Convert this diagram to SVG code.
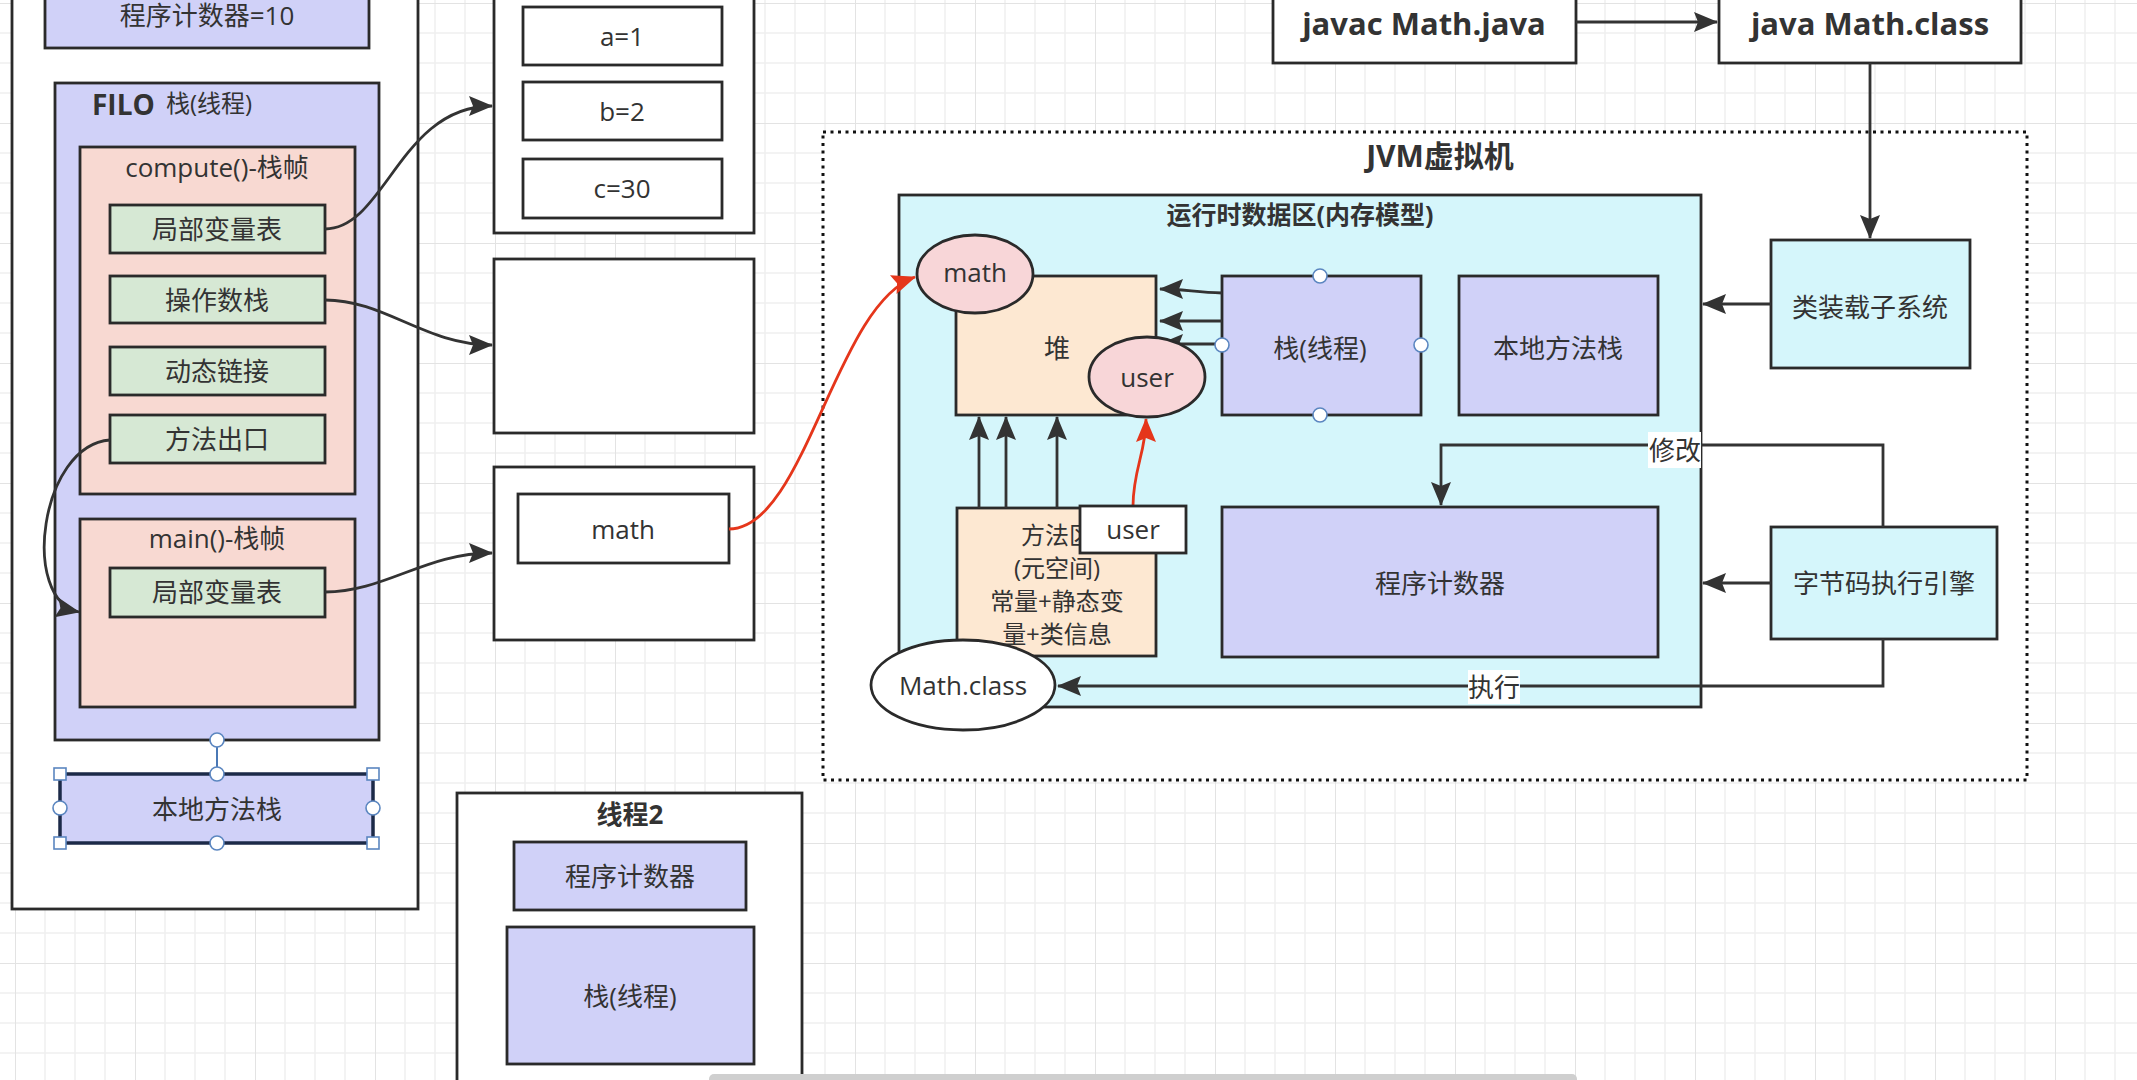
<svg xmlns="http://www.w3.org/2000/svg" width="2137" height="1080" viewBox="0 0 2137 1080">
<defs>
<pattern id="grid" x="15" y="3" width="120" height="120" patternUnits="userSpaceOnUse">
<path d="M30,0V120M60,0V120M90,0V120M0,30H120M0,60H120M0,90H120" stroke="#f0f0f0" stroke-width="1.5" fill="none"/>
<path d="M0,0V120M0,0H120" stroke="#e3e3e3" stroke-width="2" fill="none"/>
</pattern>
<marker id="arr" markerUnits="userSpaceOnUse" markerWidth="26" markerHeight="22" refX="23" refY="10" orient="auto">
<path d="M0,0 L24,10 L0,20 L4,10 z" fill="#333"/>
</marker>
<marker id="arrR" markerUnits="userSpaceOnUse" markerWidth="26" markerHeight="22" refX="23" refY="10" orient="auto">
<path d="M0,0 L24,10 L0,20 L4,10 z" fill="#E5361B"/>
</marker>
</defs>
<style>
.b{stroke:#2a2a2a;stroke-width:2.8}
.w{fill:#fff}
.pu{fill:#D0D1F8}
.pk{fill:#F8D9D2}
.gr{fill:#D6E8D4}
.pe{fill:#FDE8D2}
.cy{fill:#D5F6FB}
.el{fill:#F8D6D8}
text{font-family:"Open Sans","Noto Sans CJK SC",sans-serif;font-size:26px;fill:#333;text-anchor:middle;dominant-baseline:central}
.bold{font-weight:bold}
.ma{font-size:24px}
.c{fill:none;stroke:#333;stroke-width:2.8;marker-end:url(#arr)}
.r{fill:none;stroke:#E5361B;stroke-width:2.8;marker-end:url(#arrR)}
.h{fill:#fff;stroke:#5b86c0;stroke-width:1.6}
</style>
<rect x="0" y="0" width="2137" height="1080" fill="#fff"/>
<rect x="0" y="0" width="2137" height="1080" fill="url(#grid)"/>

<g id="thread1">
<rect class="b w" x="12" y="-5" width="406" height="914"/>
</g>
<g id="pc10">
<rect class="b pu" x="45" y="-10" width="324" height="58"/>
<text x="207" y="15">程序计数器=10</text>
</g>
<g id="stack">
<rect class="b pu" x="55" y="83" width="324" height="657"/>
<text class="bold" x="92" y="104" style="text-anchor:start;font-size:28px">FILO</text>
<text x="166" y="102" style="text-anchor:start;font-size:24px">栈(线程)</text>
</g>
<g id="compute-frame">
<rect class="b pk" x="80" y="147" width="275" height="347"/>
<text x="217" y="167">compute()-栈帧</text>
</g>
<g id="compute-locals">
<rect class="b gr" x="110" y="205" width="215" height="48"/>
<text x="217" y="229">局部变量表</text>
</g>
<g id="operand-stack">
<rect class="b gr" x="110" y="276" width="215" height="47"/>
<text x="217" y="300">操作数栈</text>
</g>
<g id="dynamic-link">
<rect class="b gr" x="110" y="347" width="215" height="48"/>
<text x="217" y="371">动态链接</text>
</g>
<g id="method-exit">
<rect class="b gr" x="110" y="415" width="215" height="48"/>
<text x="217" y="439">方法出口</text>
</g>
<g id="main-frame">
<rect class="b pk" x="80" y="519" width="275" height="188"/>
<text x="217" y="538">main()-栈帧</text>
</g>
<g id="main-locals">
<rect class="b gr" x="110" y="568" width="215" height="49"/>
<text x="217" y="592">局部变量表</text>
</g>
<g id="native-stack-1">
<line x1="217" y1="740" x2="217" y2="774" stroke="#4a78b5" stroke-width="2"/>
<rect x="60" y="774" width="313" height="69" class="pu" stroke="#1c2a48" stroke-width="3.5"/>
<text x="217" y="809">本地方法栈</text>
<circle class="h" cx="217" cy="740" r="7"/>
<circle class="h" cx="217" cy="774" r="7"/>
<circle class="h" cx="217" cy="843" r="7"/>
<circle class="h" cx="60" cy="808" r="7"/>
<circle class="h" cx="373" cy="808" r="7"/>
<rect class="h" x="54" y="768" width="12" height="12"/>
<rect class="h" x="367" y="768" width="12" height="12"/>
<rect class="h" x="54" y="837" width="12" height="12"/>
<rect class="h" x="367" y="837" width="12" height="12"/>
</g>

<g id="locals-heap">
<rect class="b w" x="494" y="-5" width="260" height="238"/>
</g>
<g id="a1"><rect class="b w" x="523" y="7" width="199" height="58"/><text x="622" y="36">a=1</text></g>
<g id="b2"><rect class="b w" x="523" y="82" width="199" height="58"/><text x="622" y="111">b=2</text></g>
<g id="c30"><rect class="b w" x="523" y="159" width="199" height="59"/><text x="622" y="188">c=30</text></g>
<g id="operand-box"><rect class="b w" x="494" y="259" width="260" height="174"/></g>
<g id="main-locals-box"><rect class="b w" x="494" y="467" width="260" height="173"/></g>
<g id="math-var"><rect class="b w" x="518" y="494" width="211" height="69"/><text x="623" y="529">math</text></g>

<g id="thread2">
<rect class="b w" x="457" y="793" width="345" height="310"/>
<text class="bold" x="630" y="814">线程2</text>
</g>
<g id="thread2-pc"><rect class="b pu" x="514" y="842" width="232" height="68"/><text x="630" y="876">程序计数器</text></g>
<g id="thread2-stack"><rect class="b pu" x="507" y="927" width="247" height="137"/><text x="630" y="996">栈(线程)</text></g>

<g id="javac"><rect class="b w" x="1273" y="-5" width="303" height="68"/><text class="bold" x="1424" y="23" style="font-size:31px">javac Math.java</text></g>
<g id="java"><rect class="b w" x="1719" y="-5" width="302" height="68"/><text class="bold" x="1870" y="23" style="font-size:31px">java Math.class</text></g>

<g id="jvm">
<rect x="823" y="132" width="1204" height="648" fill="#fff" stroke="#111" stroke-width="3" stroke-dasharray="3 4.5"/>
<text class="bold" x="1440" y="155" style="font-size:30px">JVM虚拟机</text>
</g>
<g id="runtime">
<rect class="b cy" x="899" y="195" width="802" height="512"/>
<text class="bold" x="1300" y="214" style="font-size:25px">运行时数据区(内存模型)</text>
</g>
<g id="heap"><rect class="b pe" x="956" y="276" width="200" height="139"/><text x="1057" y="348">堆</text></g>
<g id="jvm-stack"><rect class="b pu" x="1222" y="276" width="199" height="139"/><text x="1320" y="348">栈(线程)</text></g>
<g id="native-stack"><rect class="b pu" x="1459" y="276" width="199" height="139"/><text x="1558" y="348">本地方法栈</text></g>
<g id="pc"><rect class="b pu" x="1222" y="507" width="436" height="150"/><text x="1440" y="583">程序计数器</text></g>
<g id="method-area">
<rect class="b pe" x="957" y="508" width="199" height="148"/>
<text class="ma" x="1057" y="534">方法区</text>
<text class="ma" x="1057" y="567">(元空间)</text>
<text class="ma" x="1057" y="600">常量+静态变</text>
<text class="ma" x="1057" y="633">量+类信息</text>
</g>
<g id="classloader"><rect class="b cy" x="1771" y="240" width="199" height="128"/><text x="1870" y="307">类装载子系统</text></g>
<g id="engine"><rect class="b cy" x="1771" y="527" width="226" height="112"/><text x="1884" y="583">字节码执行引擎</text></g>

<g id="connectors">
<path class="c" d="M325,229 C385,229 400,106 492,106"/>
<path class="c" d="M325,300 C385,300 425,345 492,345"/>
<path class="c" d="M110,440 C40,445 20,600 79,612"/>
<path class="c" d="M325,592 C385,592 425,553 492,553"/>
<path class="r" d="M729,529 C805,529 835,305 915,277"/>
<path class="c" d="M1576,22 H1717"/>
<path class="c" d="M1870,63 V238"/>
<path class="c" d="M1771,304 H1703"/>
<path class="c" d="M1771,583 H1703"/>
<path class="c" d="M1222,293 C1195,292 1182,289 1160,289"/>
<path class="c" d="M1222,321 H1160"/>
<path class="c" d="M1222,344 H1160"/>
<path class="c" d="M979,508 V417"/>
<path class="c" d="M1006,508 V417"/>
<path class="c" d="M1057,508 V417"/>
<path class="r" d="M1133,506 C1133,470 1146,452 1146,419"/>
<path class="c" d="M1883,527 V445 H1441 V505"/>
<path class="c" d="M1883,639 V686 H1058"/>
<rect x="1648" y="432" width="53" height="36" fill="#fff"/>
<text x="1675" y="450">修改</text>
<rect x="1468" y="670" width="52" height="34" fill="#fff"/>
<text x="1494" y="687">执行</text>
</g>

<g id="stack-handles">
<circle class="h" cx="1320" cy="276" r="7"/>
<circle class="h" cx="1320" cy="415" r="7"/>
<circle class="h" cx="1222" cy="345" r="7"/>
<circle class="h" cx="1421" cy="345" r="7"/>
</g>
<g id="math-obj"><ellipse class="b el" cx="975" cy="274" rx="58" ry="39"/><text x="975" y="272">math</text></g>
<g id="user-obj"><ellipse class="b el" cx="1147" cy="377" rx="58" ry="40"/><text x="1147" y="377">user</text></g>
<g id="user-ref"><rect class="b w" x="1080" y="506" width="106" height="47"/><text x="1133" y="529">user</text></g>
<g id="math-class"><ellipse class="b w" cx="963" cy="685" rx="92" ry="45"/><text x="963" y="685">Math.class</text></g>

<rect x="709" y="1074" width="868" height="10" rx="5" fill="#cfcfcf"/>
</svg>
